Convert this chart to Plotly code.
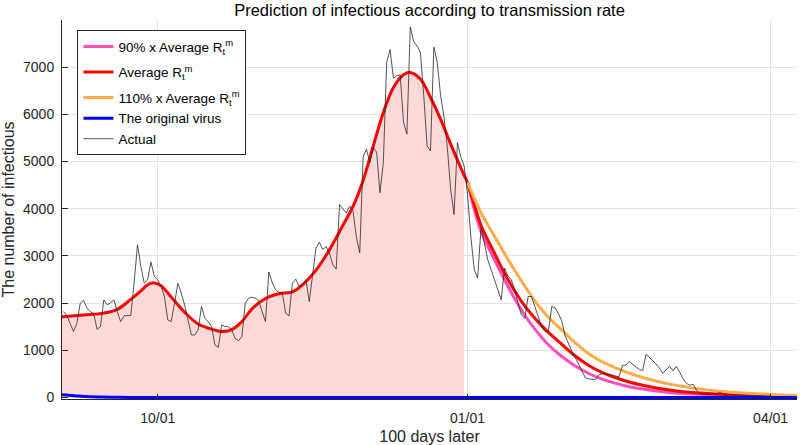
import numpy as np
import pandas as pd
import plotly.graph_objects as go

# ---------------- data ----------------
# daily "Actual" counts starting 2021-09-03
actual_start = "2021-09-03"
actual = [
    1820, 1750, 1570, 1400, 1570, 2000, 2056, 1893, 1822, 1773,
    1446, 1504, 2070, 1964, 2010, 2070, 1822, 1610, 1731, 1731,
    1740, 2430, 3240, 2779, 2425, 2496, 2872, 2567, 2496, 2354,
    2141, 1645, 1610, 2000, 2425, 2213, 1964, 1645, 1326, 1326,
    1432, 1929, 1680, 1610, 1504, 1113, 1064, 1539, 1504, 1504,
    1432, 1255, 1205, 1290, 2000, 2106, 2127, 2106, 2056, 1822,
    1610, 2660, 2440, 2283, 2227, 2213, 1787, 1731, 2425, 2510,
    2354, 2390, 2496, 2035, 2550, 3170, 3290, 3135, 3200, 3064,
    2815, 2723, 4091, 4000, 3910, 4060, 3950, 3400, 3064, 5100,
    5262, 4979, 5300, 5200, 4340, 4979, 7100, 7375, 6766, 6823,
    6837, 5830, 5581, 7850, 7550, 7450, 7319, 6396, 5332, 5225,
    7425, 7106, 6400, 5950, 5300, 4400, 3879, 5404, 5100, 4906,
    4300, 3400, 2709, 2532, 3596, 3277, 2921, 2709, 2496, 2283,
    2070, 2744, 2581, 2496, 2283, 2000, 1751, 1680, 2141, 2141,
    1929, 1680, 1504, 1396, 1396, 1929, 1900, 1780, 1620, 1300,
    1120, 980, 850, 700, 540, 420, 395, 390, 385, 480,
    505, 505, 495, 480, 455, 445, 680, 690, 765, 700,
    650, 600, 570, 921, 850, 790, 710, 620, 515, 590,
    666, 565, 660, 540, 400, 300, 262, 283, 160, 75,
    70, 70, 72, 75, 90, 105, 80, 65, 60, 55,
    50, 50, 45, 45, 42, 40, 40, 38, 38, 36, 35,
]

# fitted curves: day offsets relative to 2022-01-01 and values
ref_date = "2022-01-01"
avg_days = [-121, -114, -108, -104, -100, -97, -95, -93, -91, -88, -84, -80, -76,
            -73, -70, -67, -64, -60, -56, -52, -49, -45, -41, -37, -34, -31, -28,
            -25, -22, -19, -17, -14, -11, -8, -5, -2, -1,
            0, 4, 8, 12, 16, 20, 24, 28, 32, 36, 40, 44, 48, 52, 56, 60,
            64, 68, 75, 82, 90, 98]
avg_vals = [1710, 1750, 1790, 1870, 2080, 2260, 2390, 2430, 2370, 2130, 1810, 1560, 1450,
            1400, 1440, 1610, 1880, 2100, 2200, 2240, 2390, 2700, 3130, 3650, 4050, 4600, 5330,
            6040, 6570, 6840, 6890, 6750, 6360, 5900, 5370, 4870, 4710,
            4553, 3650, 3060, 2500, 2040, 1680, 1380, 1130, 880, 680, 530, 420, 330, 260, 205, 160,
            125, 100, 70, 50, 35, 25]

fc_days = [0, 4, 8, 12, 16, 20, 24, 28, 32, 36, 40, 44, 48, 52, 56, 60, 64, 68, 75, 82, 90, 98]
low_vals = [4553, 3524, 2921, 2354, 1857, 1450, 1120, 870, 670, 510, 390, 300, 230,
            180, 140, 110, 85, 70, 50, 35, 25, 18]
high_vals = [4553, 3915, 3420, 2930, 2470, 2050, 1700, 1430, 1160, 930, 760, 630, 520,
             425, 350, 285, 235, 190, 135, 95, 65, 45]

orig_days = [-121, -116, -112, -106, -100, -90, -80, -60, 0, 98]
orig_vals = [62, 35, 18, 8, 4, 1, 0, 0, 0, 0]

x_ticks = ["2021-10-01", "2022-01-01", "2022-04-01"]
x_tick_text = ["10/01", "01/01", "04/01"]
y_ticks = [0, 1000, 2000, 3000, 4000, 5000, 6000, 7000]

# ---------------- helpers ----------------
base = pd.Timestamp(ref_date)


def to_dates(days):
    return base + pd.to_timedelta(np.asarray(days, dtype=float), unit="D")


actual_x = pd.date_range(actual_start, periods=len(actual), freq="D")
avg_x = to_dates(avg_days)
fill_mask = np.asarray(avg_days) <= -1

FONT = "Liberation Sans, Arial, Helvetica, sans-serif"
PINK = "rgb(255,80,185)"
RED = "rgb(255,0,0)"
ORANGE = "rgb(255,172,72)"
BLUE = "rgb(0,0,255)"

fig = go.Figure()

fig.add_trace(go.Scatter(
    x=avg_x[fill_mask], y=np.asarray(avg_vals)[fill_mask],
    mode="lines", line=dict(width=0, shape="spline", color="rgba(0,0,0,0)"),
    fill="tozeroy", fillcolor="rgb(255,216,216)",
    showlegend=False, hoverinfo="skip"))

fig.add_trace(go.Scatter(
    x=to_dates(fc_days), y=low_vals, mode="lines",
    line=dict(color=PINK, width=3, shape="spline"),
    legendgroup="g1",
    name="90% x Average R<sub>t</sub><sup>m</sup>"))

fig.add_trace(go.Scatter(
    x=avg_x, y=avg_vals, mode="lines",
    line=dict(color=RED, width=3, shape="spline"),
    legendgroup="g2",
    name="Average R<sub>t</sub><sup>m</sup>"))

fig.add_trace(go.Scatter(
    x=to_dates(fc_days), y=high_vals, mode="lines",
    line=dict(color=ORANGE, width=3, shape="spline"),
    legendgroup="g3",
    name="110% x Average R<sub>t</sub><sup>m</sup>"))

fig.add_trace(go.Scatter(
    x=to_dates(orig_days), y=orig_vals, mode="lines",
    line=dict(color=BLUE, width=3, shape="spline"),
    legendgroup="g3",
    name="The original virus"))

fig.add_trace(go.Scatter(
    x=actual_x, y=actual, mode="lines",
    line=dict(color="rgb(40,40,40)", width=0.8),
    legendgroup="g3",
    name="Actual"))

fig.update_layout(
    width=800, height=445,
    margin=dict(l=62, r=3, t=20, b=46),
    paper_bgcolor="white", plot_bgcolor="white",
    font=dict(family=FONT, size=14, color="#262626"),
    title=dict(text="Prediction of infectious according to transmission rate",
               x=0.5, xref="paper", y=(445 - 10) / 445, yref="container",
               yanchor="middle", font=dict(size=16.5, color="black")),
    legend=dict(x=0.021, y=0.973, xanchor="left", yanchor="top",
                bgcolor="white", bordercolor="#262626", borderwidth=1,
                font=dict(size=13.5, color="black"), tracegroupgap=5,
                traceorder="grouped"),
    showlegend=True,
)

fig.update_xaxes(
    type="date",
    range=["2021-09-02 14:00", "2022-04-08 20:00"],
    tickvals=x_ticks, ticktext=x_tick_text,
    ticks="inside", ticklen=5, tickcolor="#262626",
    ticklabelstandoff=6,
    showline=True, linecolor="#262626", linewidth=1,
    showgrid=True, gridcolor="#e2e2e2", gridwidth=1,
    zeroline=False,
    title=dict(text="100 days later", font=dict(size=16, color="#262626"), standoff=6),
)
fig.update_yaxes(
    range=[-30, 8000],
    tickvals=y_ticks,
    ticks="inside", ticklen=6, tickcolor="#262626",
    ticklabelstandoff=4,
    showline=True, linecolor="#262626", linewidth=1,
    showgrid=True, gridcolor="#e2e2e2", gridwidth=1,
    zeroline=False,
    title=dict(text="The number of infectious", font=dict(size=16, color="#262626"), standoff=4),
)

fig.write_html(
    "out.html",
    config={"displayModeBar": False},
    post_script="document.body.style.margin='0';document.body.style.padding='0';",
)
